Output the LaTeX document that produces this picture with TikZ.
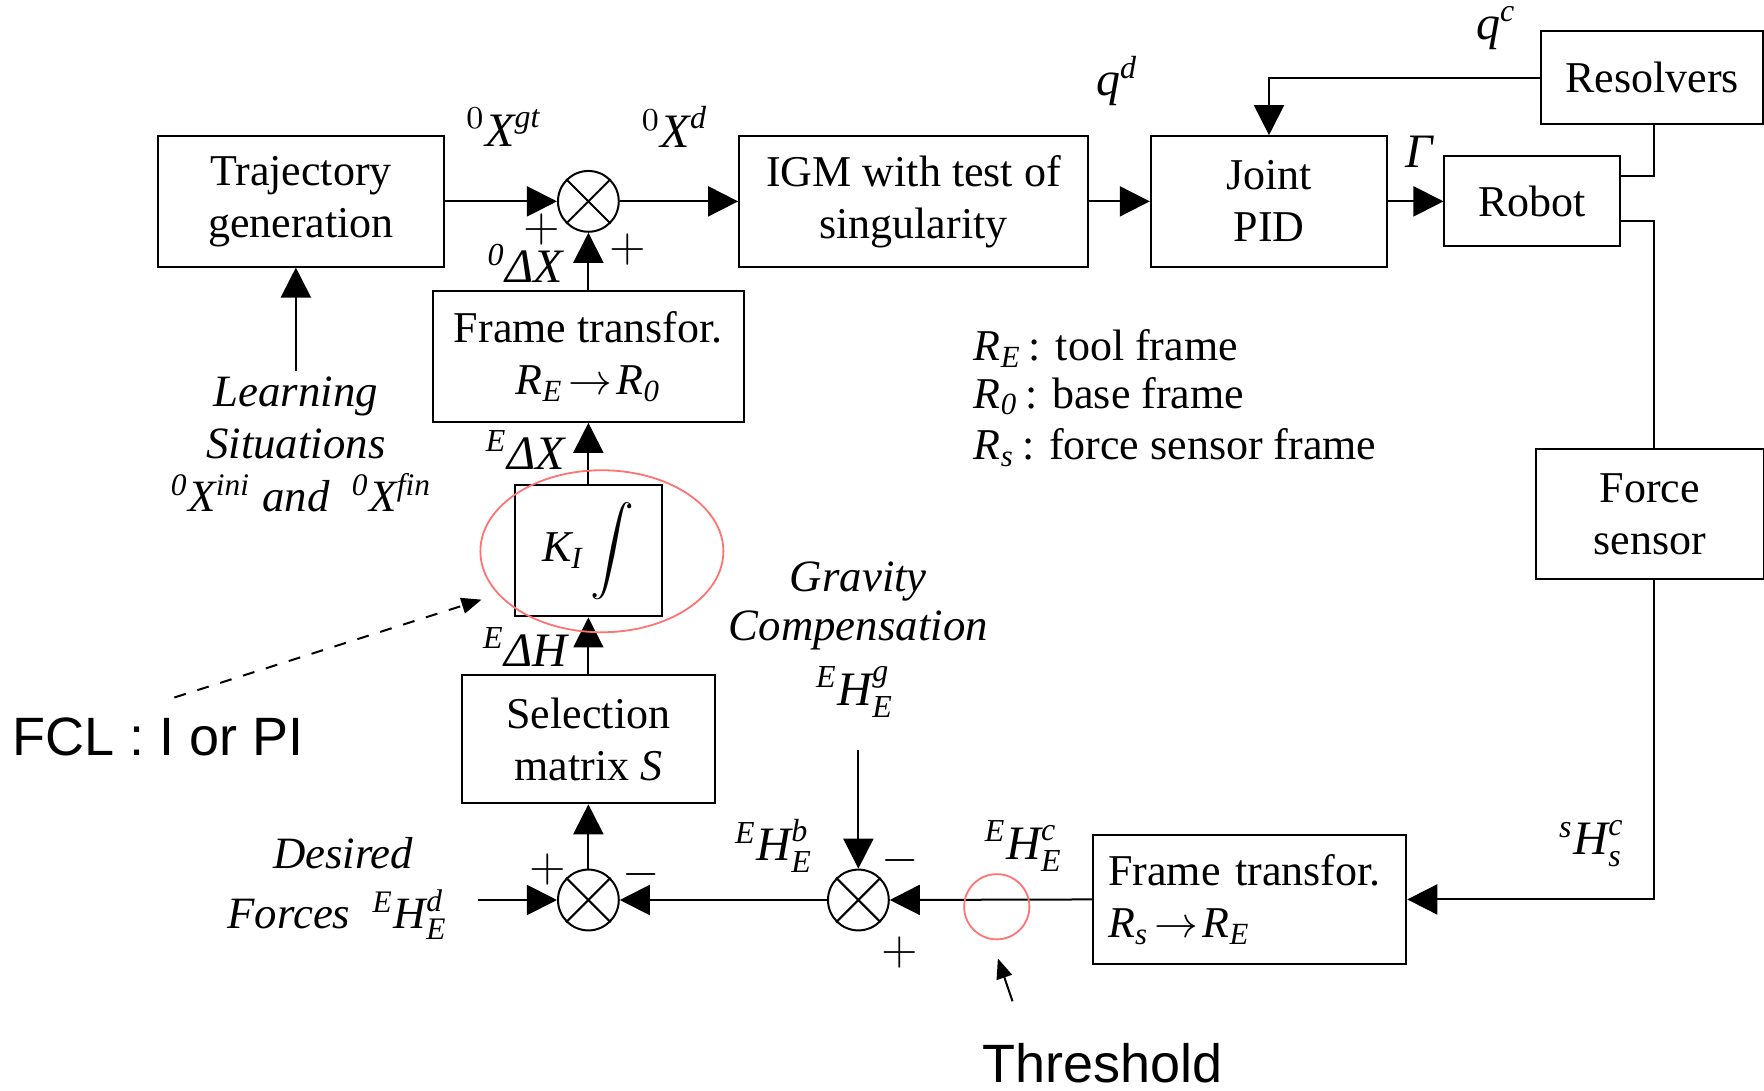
\documentclass[tikz,border=0pt]{standalone}
\usepackage{amsmath}
\usepackage{fontspec}
\setmainfont{Liberation Serif}
\newfontfamily\arialf{Liberation Sans}
\usetikzlibrary{arrows.meta,calc}
\tikzset{
  box/.style={draw,line width=0.5pt,rectangle,align=center,inner sep=0pt,font=\fontsize{11}{13}\selectfont},
  sumnode/.style={draw,circle,line width=0.5pt,minimum size=15.2pt,inner sep=0pt},
  arr/.style={line width=0.5pt,-{Triangle[length=7.5pt,width=7.5pt]}},
  ln/.style={line width=0.5pt},
  lbl/.style={inner sep=0pt,font=\fontsize{12}{14}\selectfont},
  leg/.style={inner sep=0pt,font=\fontsize{11}{13}\selectfont},
  itl/.style={inner sep=0pt,font=\fontsize{11.2}{13}\selectfont\itshape},
  big/.style={inner sep=0pt,font=\arialf\fontsize{13.5}{16}\selectfont},
  redmark/.style={draw=red!55,line width=0.45pt},
}
\begin{document}
\begin{tikzpicture}[x=0.28125pt,y=-0.28125pt]
\useasboundingbox (0,0) rectangle (1568,969);
% blocks
\node[box,minimum width=71.7pt,minimum height=32.6pt] (traj) at (267.5,179) {Trajectory\\generation};
\node[sumnode] (s1) at (523,179) {};
\node[box,minimum width=87.2pt,minimum height=32.6pt] (igm) at (812,179) {IGM with test of\\singularity};
\node[box,minimum width=59.1pt,minimum height=32.6pt] (jpid) at (1128,179) {Joint\\PID};
\node[box,minimum width=43.9pt,minimum height=22.5pt] (robot) at (1362,179) {Robot};
\node[box,minimum width=55.4pt,minimum height=23.1pt] (res) at (1468.5,69) {Resolvers};
\node[box,minimum width=57pt,minimum height=32.6pt] (fs) at (1466.5,457) {Force\\sensor};
\node[box,minimum width=77.6pt,minimum height=32.6pt] (ft1) at (523,317) {Frame transfor.\\$\textit{R}_{\textit{E}}\!\rightarrow\!\textit{R}_{\textit{0}}$};
\node[box,minimum width=36.8pt,minimum height=32.9pt,font=\fontsize{11}{13}\selectfont] (ki) at (523,489.5) {$\textit{K}_{\textit{I}}\displaystyle\int$};
\node[box,minimum width=63.3pt,minimum height=32.1pt] (sel) at (523,657) {Selection\\matrix \textit{S}};
\node[sumnode] (s2) at (523,800) {};
\node[sumnode] (s3) at (763,800) {};
\node[box,align=left,text width=70.8pt,inner xsep=3.7pt,minimum height=32.3pt] (ft2) at (1111,799.5) {Frame transfor.\\$\textit{R}_{\textit{s}}\!\rightarrow\!\textit{R}_{\textit{E}}$};
\foreach \s in {s1,s2,s3}{\draw[line width=0.5pt] (\s.45) -- (\s.225) (\s.135) -- (\s.315);}
% helper coordinates
\coordinate (col) at (1470,0);
\coordinate (gtop) at (763,667);
\coordinate (dstart) at (425,800);
\coordinate (lrn) at (263,330);
\coordinate (fclA) at (155,620);
\coordinate (fclB) at (428,533);
\coordinate (thA) at (900,890);
\coordinate (thB) at (887,852);
% connectors
\draw[arr] (traj.east) -- (s1.west);
\draw[arr] (s1.east) -- (igm.west);
\draw[arr] (igm.east) -- (jpid.west);
\draw[arr] (jpid.east) -- (robot.west);
\draw[arr] (res.west) -| (jpid.north);
\draw[ln] ([yshift=-5.06pt]robot.north east) -| (col |- res.south);
\draw[ln] ([yshift=6.5pt]robot.south east) -| (col |- fs.north);
\draw[arr] (col |- fs.south) |- (ft2.east);
\draw[arr] (ft2.west) -- (s3.east);
\draw[arr] (s3.west) -- (s2.east);
\draw[arr] (s2.north) -- (sel.south);
\draw[arr] (sel.north) -- (ki.south);
\draw[arr] (ki.north) -- (ft1.south);
\draw[arr] (ft1.north) -- (s1.south);
\draw[arr] (gtop) -- (s3.north);
\draw[arr] (dstart) -- (s2.west);
\draw[arr] (lrn) -- (lrn |- traj.south);
\draw[line width=0.5pt,dashed,-{Triangle[length=5pt,width=4pt]}] (fclA) -- (fclB);
\draw[line width=0.5pt,-{Triangle[length=5pt,width=4pt]}] (thA) -- (thB);
% red marks
\draw[redmark] (535,490) ellipse [x radius=108, y radius=72];
\draw[redmark] (886,806) circle [radius=29];
% labels
\node[lbl] (lxgt) at (448,113) {$^{0}\textit{X}^{\textit{gt}}$};
\node[lbl] (lxd) at (600,113) {$^{0}\textit{X}^{\textit{d}}$};
\node[lbl] (lp1) at (482,204) {$+$};
\node[lbl] (ldx0) at (467,234) {$^{\textit{0}}\textit{ΔX}$};
\node[lbl] (lp2) at (558,222) {$+$};
\node[lbl] (lqd) at (993,72) {$\textit{q}^{\textit{d}}$};
\node[lbl] (lqc) at (1330,25) {$\textit{q}^{\textit{c}}$};
\node[lbl] (lgam) at (1262,135) {\textit{Γ}};
\node[lbl] (ldxe) at (467,400) {$^{\textit{E}}\textit{ΔX}$};
\node[lbl] (ldhe) at (467,575) {$^{\textit{E}}\textit{ΔH}$};
\node[leg,anchor=west] (leg1) at (865,310) {$\textit{R}_{\textit{E}}$\,: tool frame};
\node[leg,anchor=west] (leg2) at (865,352) {$\textit{R}_{\textit{0}}$\,: base frame};
\node[leg,anchor=west] (leg3) at (865,398) {$\textit{R}_{\textit{s}}$\,: force sensor frame};
\node[itl] (learn1) at (263,352) {Learning};
\node[itl] (learn2) at (263,395) {Situations};
\node[itl] (learn3) at (268,438) {$^{\textit{0}}\textit{X}^{\textit{ini}}$ and \ $^{\textit{0}}\textit{X}^{\textit{fin}}$};
\node[big,anchor=west] (fcl) at (10,655) {FCL : I or PI};
\node[big] (thr) at (980,945) {Threshold};
\node[itl] (grav1) at (763,517) {Gravity};
\node[itl] (grav2) at (763,560) {Compensation};
\node[lbl] (lhg) at (760,615) {$^{\textit{E}}\textit{H}_{\textit{E}}^{\textit{g}}$};
\node[lbl] (lhb) at (688,752) {$^{\textit{E}}\textit{H}_{\textit{E}}^{\textit{b}}$};
\node[lbl] (lm3) at (800,765) {$-$};
\node[lbl] (lp3) at (800,847) {$+$};
\node[lbl] (lhc) at (910,752) {$^{\textit{E}}\textit{H}_{\textit{E}}^{\textit{c}}$};
\node[lbl] (lhs) at (1415,750) {$^{\textit{s}}\textit{H}_{\textit{s}}^{\textit{c}}$};
\node[itl] (des1) at (305,758) {Desired};
\node[itl] (des2) at (300,813) {Forces \ \upshape$^{\textit{E}}\textit{H}_{\textit{E}}^{\textit{d}}$};
\node[lbl] (lp4) at (487,773) {$+$};
\node[lbl] (lm4) at (570,777) {$-$};
\end{tikzpicture}
\end{document}
